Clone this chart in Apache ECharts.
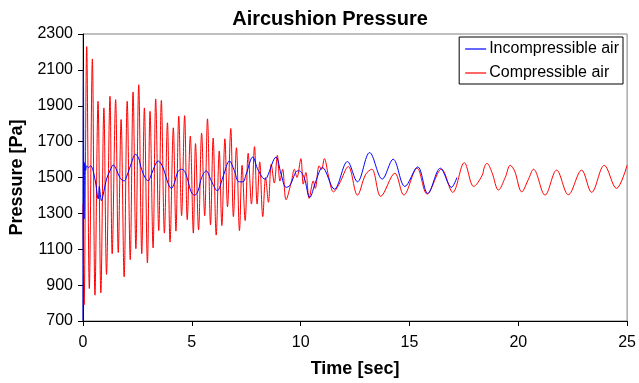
<!DOCTYPE html>
<html>
<head>
<meta charset="utf-8">
<script src="https://cdn.jsdelivr.net/npm/echarts@6/dist/echarts.min.js"></script>
<style>html,body{margin:0;padding:0;background:#fff}#c{width:639px;height:383px}</style>
</head>
<body>
<div id="c"></div>
<script>
var title = 'Aircushion Pressure';
var xTicks = [0, 5, 10, 15, 20, 25];
var yTicks = [700, 900, 1100, 1300, 1500, 1700, 1900, 2100, 2300];
var seriesNames = ['Incompressible air', 'Compressible air'];

var blueT = [0,0.02,0.05,0.08,0.12,0.17,0.25,0.35,0.55,0.70,0.75,0.78,0.85,0.92,1.08,1.25,1.39,1.55,1.69,1.89,2.05,2.23,2.41,2.55,2.69,2.85,2.99,3.15,3.30,3.45,3.60,3.75,3.90,4.06,4.20,4.35,4.52,4.67,4.82,4.97,5.13,5.30,5.45,5.66,5.90,6.17,6.45,6.73,6.95,7.16,7.35,7.50,7.80,8.05,8.36,8.45,8.87,9.10,9.33,9.50,9.86,9.94,10.16,10.42,10.70,11.00,11.55,12.15,12.61,13.17,13.75,14.25,14.79,15.38,15.84,16.42,16.93,17.18];
var blueP = [700,2100,1269,1583,1540,1565,1555,1565,1491,1380,1450,1420,1370,1400,1491,1540,1570,1540,1500,1481,1520,1583,1629,1610,1546,1500,1481,1520,1565,1592,1575,1530,1470,1439,1470,1530,1546,1535,1483,1420,1400,1430,1500,1537,1480,1426,1510,1592,1540,1476,1476,1520,1614,1540,1491,1500,1614,1520,1445,1455,1537,1537,1500,1389,1480,1556,1435,1589,1476,1639,1491,1602,1450,1559,1411,1552,1445,1500];

var redT = [0,0.05,0.17,0.29,0.43,0.55,0.69,0.82,0.96,1.08,1.24,1.34,1.50,1.62,1.75,1.89,2.03,2.17,2.30,2.43,2.56,2.70,2.82,2.96,3.08,3.22,3.34,3.48,3.60,3.74,3.88,4.00,4.15,4.27,4.40,4.53,4.67,4.79,4.93,5.07,5.17,5.31,5.45,5.59,5.72,5.86,5.98,6.12,6.26,6.38,6.52,6.64,6.79,6.91,7.05,7.19,7.31,7.45,7.59,7.74,7.88,8.00,8.12,8.26,8.39,8.52,8.65,8.79,8.93,9.05,9.17,9.33,9.58,9.71,9.83,10.01,10.12,10.24,10.39,10.58,10.67,10.85,10.96,11.09,11.28,11.51,11.77,12.19,12.61,12.99,13.27,13.68,14.33,14.74,15.35,15.81,16.47,16.99,17.52,17.95,18.33,18.45,18.56,18.79,19.09,19.40,19.63,19.83,20.16,20.47,20.70,21.23,21.76,22.30,22.91,23.37,23.95,24.51,25.00];
var redP = [1350,790,2230,881,2161,844,1925,857,1888,960,1953,1075,1934,1082,1823,946,1925,1042,1977,1103,2017,1075,1888,1023,1869,1107,1938,1204,1930,1190,1805,1140,1777,1201,1842,1287,1845,1265,1731,1190,1689,1208,1747,1287,1827,1236,1720,1179,1648,1232,1716,1337,1773,1282,1666,1204,1568,1260,1635,1352,1672,1352,1587,1282,1500,1362,1574,1469,1624,1480,1546,1376,1480,1546,1500,1605,1463,1528,1384,1481,1439,1565,1545,1605,1509,1420,1463,1561,1402,1518,1546,1395,1524,1402,1552,1408,1546,1417,1583,1450,1509,1561,1579,1528,1430,1500,1568,1537,1420,1491,1546,1402,1541,1404,1541,1417,1568,1439,1568];

function pairs(t, p) { return t.map(function (v, i) { return [v, p[i]]; }); }

var chart = echarts.init(document.getElementById('c'), null, {renderer: 'canvas'});
var font = '"Liberation Sans", Arial, sans-serif';
chart.setOption({
  animation: false,
  backgroundColor: '#fff',
  textStyle: {fontFamily: font},
  title: {
    text: title, left: 325, top: 4, textAlign: 'center',
    textStyle: {fontFamily: font, fontSize: 20, fontWeight: 'bold', color: '#000'}
  },
  legend: {
    orient: 'vertical', right: 16, top: 37,
    backgroundColor: '#fff',
    borderColor: '#000', borderWidth: 1, padding: [4, 4, 3, 6],
    itemWidth: 21, itemHeight: 1.2, itemGap: 8, icon: 'rect',
    textStyle: {fontFamily: font, fontSize: 16, color: '#000', lineHeight: 16, padding: [0,0,0,-2]},
    data: seriesNames
  },
  grid: {left: 83, right: 10, top: 34, bottom: 60, show: true, borderColor: '#808080', borderWidth: 1},
  xAxis: {
    type: 'value', min: xTicks[0], max: xTicks[xTicks.length - 1], interval: 5,
    name: 'Time [sec]', nameLocation: 'middle', nameGap: 39,
    nameTextStyle: {fontFamily: font, fontSize: 18, fontWeight: 'bold', color: '#000'},
    axisLine: {lineStyle: {color: '#000', width: 1}},
    axisTick: {show: true, length: 5, lineStyle: {color: '#000'}},
    axisLabel: {fontFamily: font, fontSize: 16, color: '#000', margin: 14},
    splitLine: {show: false}
  },
  yAxis: {
    type: 'value', min: yTicks[0], max: yTicks[yTicks.length - 1], interval: 200,
    name: 'Pressure [Pa]', nameLocation: 'middle', nameGap: 57, nameRotate: 90,
    nameTextStyle: {fontFamily: font, fontSize: 18, fontWeight: 'bold', color: '#000'},
    axisLine: {show: true, lineStyle: {color: '#000', width: 1}},
    axisTick: {show: true, length: 5, lineStyle: {color: '#000'}},
    axisLabel: {fontFamily: font, fontSize: 16, color: '#000', margin: 10,
      formatter: function (v) { return String(v); }},
    splitLine: {show: false}
  },
  series: [
    {
      name: seriesNames[1], type: 'line', data: pairs(redT, redP),
      showSymbol: false, symbol: 'none', smooth: 0.35,
      lineStyle: {color: '#ff0000', width: 1}, itemStyle: {color: '#ff0000'}, z: 2
    },
    {
      name: seriesNames[0], type: 'line', data: pairs(blueT, blueP),
      showSymbol: false, symbol: 'none', smooth: 0.35,
      lineStyle: {color: '#0000ff', width: 1}, itemStyle: {color: '#0000ff'}, z: 3
    }
  ]
});
</script>
</body>
</html>
